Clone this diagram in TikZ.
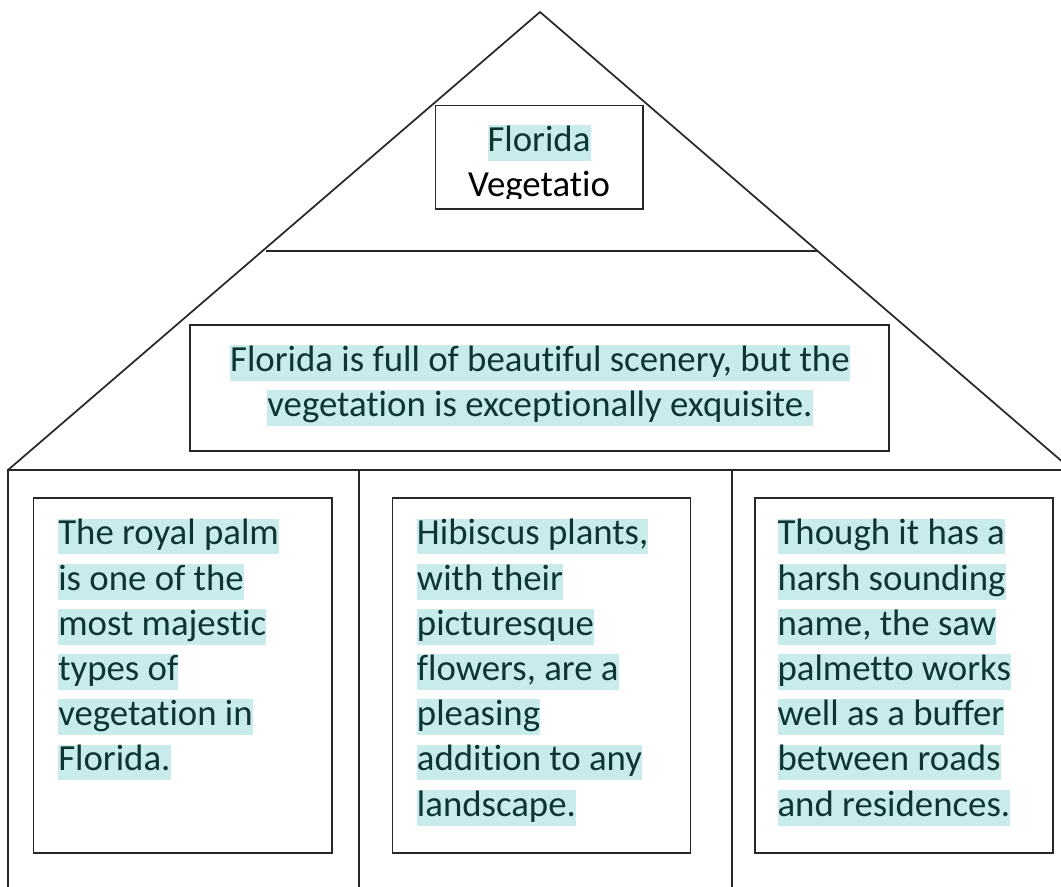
\documentclass[tikz,border=0pt]{standalone}
\usepackage{fontspec}
\setmainfont[Ligatures={NoCommon}]{Carlito}
\definecolor{hl}{RGB}{200,236,236}
\definecolor{txt}{RGB}{14,52,52}
\definecolor{ln}{RGB}{40,40,40}
\newcommand{\hlstrut}{\rule[-7pt]{0pt}{26.8pt}}
\newcommand{\hlline}[1]{{\setlength{\fboxsep}{0pt}\colorbox{hl}{\hlstrut#1}}}
\tikzset{
  frame/.style={draw=ln, line width=1.3pt},
  body/.style={inner sep=0pt, font=\fontsize{27.6}{33.9}\selectfont, text=txt}
}
\begin{document}
\begin{tikzpicture}[x=0.75pt, y=-0.75pt]
\useasboundingbox (0,0) rectangle (1061,886);
\clip (0,0) rectangle (1061,886);
% roof
\coordinate (apex) at (540,12);
\coordinate (eaveL) at (8,470);
\coordinate (eaveR) at (1072,470);
\draw[frame] (eaveL) -- (apex) -- (eaveR);
\draw[frame] (266,251) -- (818,251);
% walls
\draw[frame] (8,900) -- (eaveL) -- (1075,470);
\draw[frame] (359,470) -- (359,900);
\draw[frame] (732,470) -- (732,900);
% boxes
\draw[frame] (435.5,105.5) rectangle (643,209);
\draw[frame] (190,325) rectangle (889,451);
\draw[frame] (33.5,498) rectangle (332,853);
\draw[frame] (392.5,498) rectangle (690.5,853);
\draw[frame] (755,498) rectangle (1053,853);
% title (clipped)
\begin{scope}
\clip (437,107) rectangle (641,198);
\node[body, anchor=north, align=center] (title) at (539,125)
  {\hlline{Florida}\\{\color{black}\hlstrut Vegetatio}};
\end{scope}
% thesis
\node[body, anchor=north, align=center] (thesis) at (540,345)
  {\hlline{Florida is full of beautiful scenery, but the}\\
   \hlline{vegetation is exceptionally exquisite.}};
% columns
\node[body, anchor=north west, align=left] (palm) at (58,518.3)
  {\hlline{The royal palm}\\\hlline{is one of the}\\\hlline{most majestic}\\
   \hlline{types of}\\\hlline{vegetation in}\\\hlline{Florida.}};
\node[body, anchor=north west, align=left] (hibiscus) at (416.7,518.3)
  {\hlline{Hibiscus plants,}\\\hlline{with their}\\\hlline{picturesque}\\
   \hlline{flowers, are a}\\\hlline{pleasing}\\\hlline{addition to any}\\\hlline{landscape.}};
\node[body, anchor=north west, align=left] (saw) at (777.3,518.3)
  {\hlline{Though it has a}\\\hlline{harsh sounding}\\\hlline{name, the saw}\\
   \hlline{palmetto works}\\\hlline{well as a buffer}\\\hlline{between roads}\\\hlline{and residences.}};
\end{tikzpicture}
\end{document}
